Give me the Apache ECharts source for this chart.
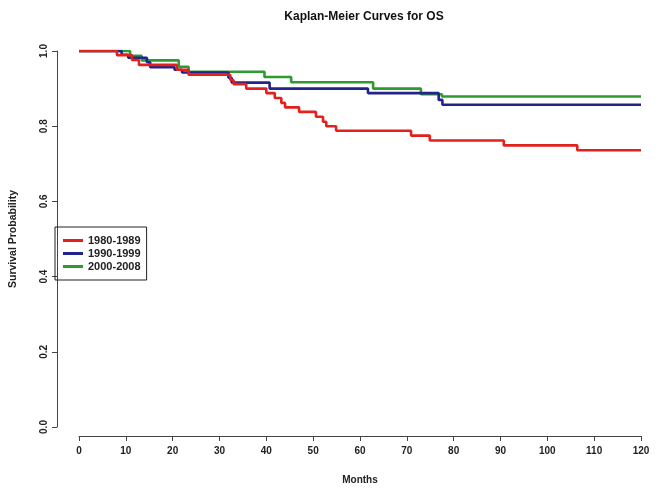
<!DOCTYPE html>
<html>
<head>
<meta charset="utf-8">
<script src="https://cdn.jsdelivr.net/npm/echarts@6/dist/echarts.min.js"></script>
<style>html,body{margin:0;padding:0;background:#fff;}#c{width:657px;height:490px;}</style>
</head>
<body>
<div id="c"></div>
<script>
var xTicks = [0,10,20,30,40,50,60,70,80,90,100,110,120];
var yTicks = [0.0,0.2,0.4,0.6,0.8,1.0];
var seriesNames = ['1980-1989','1990-1999','2000-2008'];
var redMonths = [0,8.1,11.3,12.8,20.9,23.4,32.3,33,35.7,40,41.8,43.2,44,47,50.6,52.1,52.8,54.9,70.9,74.9,90.7,106.4,120];
var redSurv   = [1,0.989,0.976,0.963,0.95,0.937,0.923,0.912,0.90,0.888,0.875,0.862,0.85,0.838,0.825,0.812,0.80,0.788,0.775,0.762,0.749,0.736,0.736];
var blueMonths = [0,9.1,10.5,14.5,15.2,20.4,22,31.9,32.6,40.7,61.7,76.8,77.6,120];
var blueSurv   = [1,0.99,0.982,0.97,0.957,0.95,0.943,0.929,0.916,0.90,0.888,0.87,0.857,0.857];
var greenMonths = [0,10.9,13.4,21.3,23.4,39.6,45.3,62.8,73,77.5,120];
var greenSurv   = [1,0.987,0.975,0.958,0.945,0.931,0.917,0.90,0.885,0.879,0.879];
var colors = ['#e3211c','#23238c','#2f9a2f'];

function pairs(xs, ys){ return xs.map(function(x,i){ return [x, ys[i]]; }); }
var font = 'Liberation Sans, Arial, sans-serif';
var chart = echarts.init(document.getElementById('c'), null, {renderer:'canvas'});
var datas = [pairs(redMonths,redSurv), pairs(blueMonths,blueSurv), pairs(greenMonths,greenSurv)];
chart.setOption({
  animation:false,
  backgroundColor:'#fff',
  title:{text:'Kaplan-Meier Curves for OS', left:359, top:6, textAlign:'center',
    textStyle:{fontFamily:font, fontSize:12, fontWeight:'bold', color:'#111'}},
  legend:{
    orient:'vertical', left:55, top:227, data:seriesNames,
    icon:'rect', itemWidth:20, itemHeight:3, itemGap:0,
    padding:[7,6,7,8], borderColor:'#222', borderWidth:1,
    textStyle:{fontFamily:font, fontSize:11, lineHeight:13, fontWeight:'bold', color:'#222'}
  },
  grid:{left:77, right:16, top:51, bottom:62},
  xAxis:{
    type:'value', min:0, max:120, interval:10, offset:9,
    name:'Months', nameLocation:'middle', nameGap:39,
    nameTextStyle:{fontFamily:font, fontSize:10, fontWeight:'bold', color:'#222'},
    axisLine:{show:true, onZero:false, lineStyle:{color:'#444', width:1}},
    axisTick:{show:true, length:5, lineStyle:{color:'#444'}},
    axisLabel:{fontFamily:font, fontSize:10, fontWeight:'bold', color:'#222', margin:10},
    splitLine:{show:false}
  },
  yAxis:{
    type:'value', min:0, max:1, interval:0.2, offset:22,
    name:'Survival Probability', nameLocation:'middle', nameGap:38,
    nameTextStyle:{fontFamily:font, fontSize:10.5, fontWeight:'bold', color:'#222'},
    axisLine:{show:true, onZero:false, lineStyle:{color:'#444', width:1}},
    axisTick:{show:true, length:5, lineStyle:{color:'#444'}},
    axisLabel:{fontFamily:font, fontSize:10, fontWeight:'bold', color:'#222', rotate:90, margin:8,
      formatter:function(v){ return v.toFixed(1); }},
    splitLine:{show:false}
  },
  series: seriesNames.map(function(n,i){
    return {name:n, type:'line', step:'end', data:datas[i], showSymbol:false,
      color:colors[i], lineStyle:{color:colors[i], width:2.6}, itemStyle:{color:colors[i]}, z:3-i};
  })
});
</script>
</body>
</html>
